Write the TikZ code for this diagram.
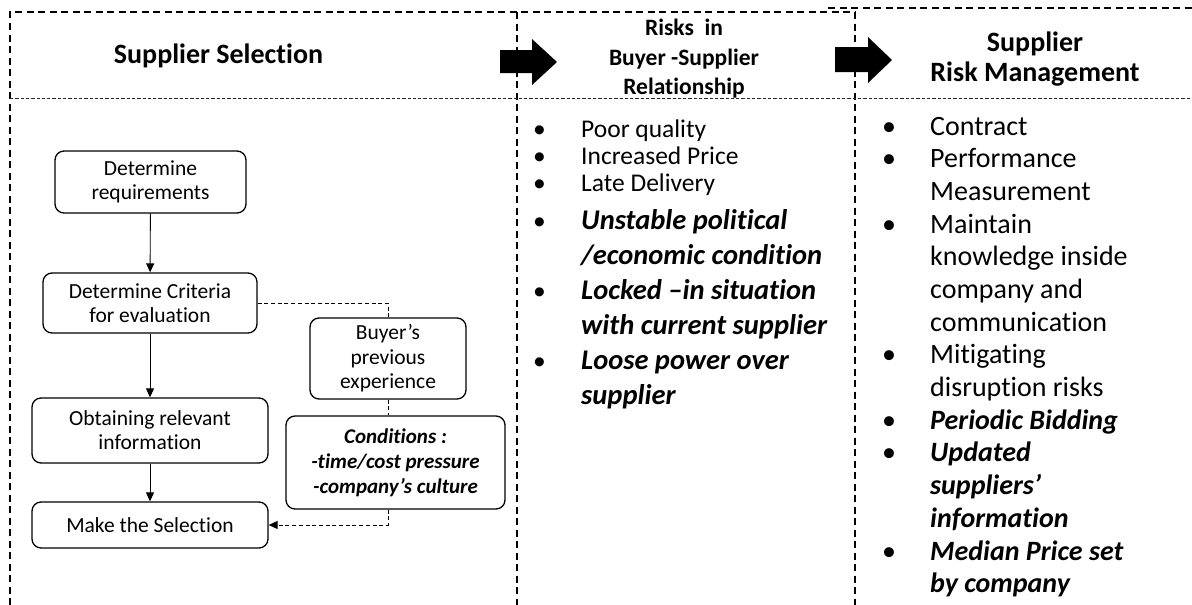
\documentclass[tikz,border=0pt]{standalone}
\usepackage{fontspec}
\setmainfont{Carlito}[Ligatures={NoCommon}]
\usetikzlibrary{arrows.meta}
\newcommand{\bi}[1]{\textbf{\textit{#1}}}
\newcommand{\bul}{\makebox[48pt][l]{•}}
\newcommand{\bigbi}[1]{\smash{\fontsize{28.5}{34}\selectfont\bi{#1}}}
\begin{document}
\begin{tikzpicture}[x=1pt,y=-1pt,
  frame/.style={line width=1.2pt, dash pattern=on 7pt off 4.5pt},
  sepline/.style={line width=0.8pt, dash pattern=on 3.3pt off 2pt, black!85},
  flowbox/.style={draw, line width=1.3pt, rounded corners=9pt, align=center,
    font=\fontsize{21.5}{24}\selectfont, inner sep=0pt},
  flowarrow/.style={line width=0.9pt, -{Triangle[length=9pt,width=8pt]}},
  linkline/.style={line width=0.9pt, dash pattern=on 4pt off 2.7pt},
  blockarrow/.style={fill=black},
  ]
\useasboundingbox (0,0) rectangle (1192,605);

% frame
\draw[frame] (10,605) -- (10,12) -- (855,12);
\draw[frame] (828,8) -- (1192,8);
\draw[frame] (517,12) -- (517,605);
\draw[frame] (855,12) -- (855,605);
\draw[sepline] (10,98) -- (1192,98);

% headers
\node[font=\fontsize{28}{28}\selectfont\bfseries, anchor=base] (h1) at (218.5,63) {Supplier Selection};
\node[font=\fontsize{23.5}{29.5}\selectfont\bfseries, align=center] (h2) at (684,59) {Risks~ in\\Buyer -Supplier\\Relationship};
\node[font=\fontsize{28}{30}\selectfont\bfseries, align=center] (h3) at (1035,59) {Supplier\\Risk Management};

% block arrows
\fill[blockarrow] (500,50) -- (532,50) -- (532,39) -- (557,62) -- (532,85) -- (532,73) -- (500,73) -- cycle;
\fill[blockarrow] (835,47) -- (868,47) -- (868,37) -- (892,60) -- (868,83) -- (868,72) -- (835,72) -- cycle;

% flowchart
\node[flowbox, minimum width=191pt, minimum height=62pt] (req) at (150.5,182) {Determine\\requirements};
\node[flowbox, minimum width=214pt, minimum height=60pt] (crit) at (150,303) {Determine Criteria\\for evaluation};
\node[flowbox, minimum width=236pt, minimum height=65pt] (obt) at (150,430.5) {Obtaining relevant\\information};
\node[flowbox, minimum width=236pt, minimum height=46pt] (make) at (150,525) {Make the Selection};
\node[flowbox, minimum width=156pt, minimum height=81pt, font=\fontsize{21.5}{24.5}\selectfont] (buyer) at (388,358.5) {Buyer’s\\previous\\experience};
\node[flowbox, minimum width=219pt, minimum height=93pt, font=\fontsize{21}{25}\selectfont\bfseries\itshape] (cond) at (395.5,462.5) {Conditions :\\-time/cost pressure\\-company’s culture};

\draw[flowarrow] (req) -- (crit);
\draw[flowarrow] (crit) -- (obt);
\draw[flowarrow] (obt) -- (make);
\draw[linkline] (crit.east) -| (buyer.north);
\draw[linkline] (buyer.south) -- (buyer.south |- cond.north);
\coordinate (cbot) at (buyer.south |- cond.south);
\draw[linkline, -{Triangle[length=9pt,width=8pt]}] (cbot) |- (make.east);

% risks list
\node[anchor=base west, inner sep=0pt, font=\fontsize{25.5}{27}\selectfont] (risks) at (533,137) {%
\begin{tabular}[t]{@{}l@{}l@{}}
\bul & Poor quality\\
\bul & Increased Price\\
\bul & Late Delivery\\[11pt]
\bul & \bigbi{Unstable political}\\[8pt]
 & \bigbi{/economic condition}\\[8pt]
\bul & \bigbi{Locked –in situation}\\[8pt]
 & \bigbi{with current supplier}\\[8pt]
\bul & \bigbi{Loose power over}\\[8pt]
 & \bigbi{supplier}
\end{tabular}};

% management list
\node[anchor=base west, inner sep=0pt, font=\fontsize{28}{32.7}\selectfont] (mgmt) at (882,135) {%
\begin{tabular}[t]{@{}l@{}l@{}}
\bul & Contract\\
\bul & Performance\\
 & Measurement\\
\bul & Maintain\\
 & knowledge inside\\
 & company and\\
 & communication\\
\bul & Mitigating\\
 & disruption risks\\
\bul & \bi{Periodic Bidding}\\
\bul & \bi{Updated}\\
 & \bi{suppliers’}\\
 & \bi{information}\\
\bul & \bi{Median Price set}\\
 & \bi{by company}
\end{tabular}};
\end{tikzpicture}
\end{document}
